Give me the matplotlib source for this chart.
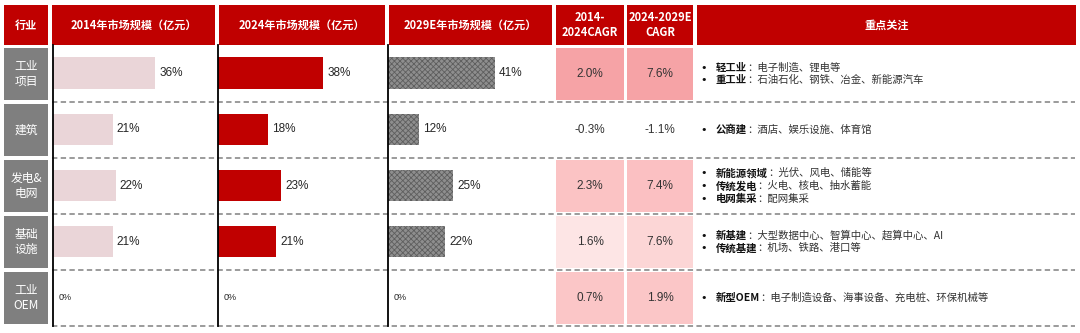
import matplotlib.pyplot as plt
import matplotlib.patches as mpatches

plt.rcParams['font.family'] = ['Noto Sans CJK SC', 'DejaVu Sans']
plt.rcParams['hatch.linewidth'] = 0.6

# ---- data ----
industries = ['工业\n项目', '建筑', '发电&\n电网', '基础\n设施', '工业\nOEM']
share_2014 = [36, 21, 22, 21, 0]
share_2024 = [38, 18, 23, 21, 0]
share_2029 = [41, 12, 25, 22, 0]
cagr_14_24 = [2.0, -0.3, 2.3, 1.6, 0.7]
cagr_24_29 = [7.6, -1.1, 7.4, 7.6, 1.9]
focus_bold = [['轻工业', '重工业'],
              ['公商建'],
              ['新能源领域', '传统发电', '电网集采'],
              ['新基建', '传统基建'],
              ['新型OEM']]
focus_text = [['电子制造、锂电等', '石油石化、钢铁、冶金、新能源汽车'],
              ['酒店、娱乐设施、体育馆'],
              ['光伏、风电、储能等', '火电、核电、抽水蓄能', '配网集采'],
              ['大型数据中心、智算中心、超算中心、AI', '机场、铁路、港口等'],
              ['电子制造设备、海事设备、充电桩、环保机械等']]
headers = ['行业', '2014年市场规模（亿元）', '2024年市场规模（亿元）',
           '2029E年市场规模（亿元）', '2014-\n2024CAGR', '2024-2029E\nCAGR', '重点关注']

# ---- style ----
RED = '#c00000'
GREY_CELL = '#7f7f7f'
cagr1_colors = ['#f6a3a6', 'none', '#fbc3c4', '#fde5e5', '#fbc6c7']
cagr2_colors = ['#f6a3a6', 'none', '#fbc0c2', '#fcd6d6', '#fbc6c7']

W, H = 1080, 333
fig = plt.figure(figsize=(W / 100, H / 100), dpi=100)

def frac(x0, y0, x1, y1):
    return [x0 / W, 1 - y1 / H, (x1 - x0) / W, (y1 - y0) / H]

# overlay axes in pixel coords for the table frame
ov = fig.add_axes([0, 0, 1, 1])
ov.set_xlim(0, W)
ov.set_ylim(H, 0)
ov.axis('off')

head_x = [(4, 48), (52, 215), (219, 385), (389, 552), (556, 624), (627, 693), (697, 1076)]
for (x0, x1), txt in zip(head_x, headers):
    ov.add_patch(mpatches.Rectangle((x0, 5), x1 - x0, 40, color=RED, lw=0))
    ov.text((x0 + x1) / 2, 25, txt, color='white', fontsize=8, fontweight='bold',
            ha='center', va='center', linespacing=1.15)

row_top = 46
row_h = 56
n = len(industries)

for i, name in enumerate(industries):
    y0 = row_top + i * row_h
    yc = y0 + row_h / 2
    ov.add_patch(mpatches.Rectangle((4, y0 + 2), 44, row_h - 4, color=GREY_CELL, lw=0))
    ov.text(26, yc, name, color='white', fontsize=8.5, ha='center', va='center',
            linespacing=1.2)
    # CAGR cells
    for (x0, x1), vals, cols in [((556, 624), cagr_14_24, cagr1_colors),
                                 ((627, 693), cagr_24_29, cagr2_colors)]:
        if cols[i] != 'none':
            ov.add_patch(mpatches.Rectangle((x0, y0 + 2), x1 - x0, row_h - 4,
                                            color=cols[i], lw=0))
        ov.text((x0 + x1) / 2, yc, f'{vals[i]:.1f}%', fontsize=8.5, color='#333333',
                ha='center', va='center', family=['Liberation Sans', 'DejaVu Sans'])
    # focus column
    lines = len(focus_bold[i])
    for k in range(lines):
        ly = yc + (k - (lines - 1) / 2) * 12.7
        ov.text(700, ly, '•', fontsize=8, ha='left', va='center', color='#111111',
                family=['DejaVu Sans'])
        t = ov.text(716, ly, focus_bold[i][k], fontsize=7.5, fontweight='bold',
                    ha='left', va='center', color='#111111')
        ov.annotate('：' + focus_text[i][k], xy=(1, 0.5), xycoords=t, fontsize=7.5,
                    ha='left', va='center', color='#333333')
    # dashed separator
    ov.plot([52, 1075], [y0 + row_h, y0 + row_h], color='#808080', lw=1.1,
            dashes=(3.5, 2.2))

# ---- bar panels ----
panels = [
    ((53, 215), share_2014, dict(color='#ead5d8'), 57),
    ((218, 385), share_2024, dict(color=RED), 60.5),
    ((388, 552), share_2029, dict(facecolor='#8e8e8e', edgecolor='#5e5e5e',
                                  hatch='xxxxxx', lw=0), 63),
]
for (x0, x1), vals, style, xmax in panels:
    ax = fig.add_axes(frac(x0, row_top - 1, x1, row_top + n * row_h))
    ax.set_facecolor('none')
    ypos = list(range(n))
    ax.barh(ypos, vals, height=0.56, **style)
    for yv, v in zip(ypos, vals):
        ax.annotate(f'{v}%', xy=(v, yv), xytext=(3 if v else 4, 0), textcoords='offset points',
                    ha='left', va='center', fontsize=8.5 if v else 6.5, color='#262626',
                    family=['Liberation Sans', 'DejaVu Sans'])
    ax.set_xlim(0, xmax)
    ax.set_ylim(n - 0.5, -0.5)
    for s in ['top', 'right', 'bottom']:
        ax.spines[s].set_visible(False)
    ax.spines['left'].set_linewidth(1.3)
    ax.spines['left'].set_color('black')
    ax.set_xticks([])
    ax.set_yticks([])

fig.savefig('out.png', dpi=100)
